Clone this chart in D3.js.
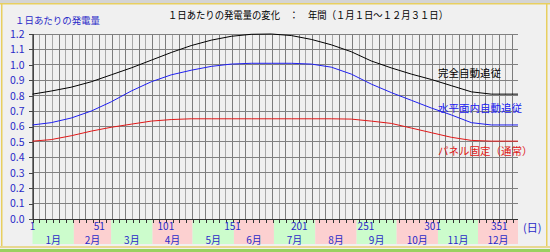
<!DOCTYPE html>
<html><head><meta charset="utf-8">
<script src="https://cdn.jsdelivr.net/npm/d3@7"></script>
<style>
html,body{margin:0;padding:0;background:#f0f0f0;}
svg{display:block;}
text{font-family:"Noto Sans CJK JP","Noto Sans",sans-serif;}
</style></head>
<body>
<svg id="c" width="550" height="252"></svg>
<script>
const days = [1,15,30,45,60,75,90,105,120,135,150,165,180,195,210,225,240,255,270,285,300,315,330,345,365];
const completeTracking = [0.81,0.83,0.855,0.89,0.935,0.98,1.03,1.08,1.125,1.16,1.185,1.198,1.2,1.19,1.165,1.13,1.085,1.025,0.98,0.94,0.905,0.865,0.825,0.81,0.81];
const horizontalTracking = [0.61,0.625,0.655,0.70,0.76,0.83,0.89,0.935,0.965,0.99,1.005,1.01,1.01,1.01,1.005,0.985,0.94,0.875,0.82,0.77,0.72,0.675,0.625,0.61,0.61];
const fixedPanel = [0.505,0.515,0.54,0.57,0.595,0.615,0.635,0.645,0.65,0.65,0.65,0.65,0.65,0.65,0.65,0.65,0.648,0.635,0.62,0.59,0.56,0.53,0.51,0.505,0.505];
const yTicks = [0.0,0.1,0.2,0.3,0.4,0.5,0.6,0.7,0.8,0.9,1.0,1.1,1.2];
const xTickLabels = [1,51,101,151,201,251,301,351];
const months = ["1月","2月","3月","4月","5月","6月","7月","8月","9月","10月","11月","12月"];
const monthDays = [31,28,31,30,31,30,31,31,30,31,30,31];
const seriesNames = ["完全自動追従","水平面内自動追従","パネル固定（通常）"];

const svg = d3.select("#c");
const W=550,H=252;
const x = d3.scaleLinear().domain([1,365]).range([32.5,518]);
const y = d3.scaleLinear().domain([0,1.2]).range([219,34]);
const blueText = "#2a2ac8";

// frame
svg.append("rect").attr("x",0).attr("y",0).attr("width",W).attr("height",H).attr("fill","#f0f0f0");
svg.append("rect").attr("x",0).attr("y",0).attr("width",W).attr("height",3).attr("fill","#d4d4d4");
svg.append("rect").attr("x",0).attr("y",3).attr("width",W).attr("height",1.5).attr("fill","#e8cf60");
svg.append("rect").attr("x",1).attr("y",3).attr("width",1.5).attr("height",244).attr("fill","#e8cf60");
svg.append("rect").attr("x",546).attr("y",3).attr("width",1.5).attr("height",244).attr("fill","#e8cf60");
svg.append("rect").attr("x",0).attr("y",246).attr("width",W).attr("height",2).attr("fill","#e8d890");
svg.append("rect").attr("x",0).attr("y",249).attr("width",W).attr("height",3).attr("fill","#9ad060");

// month bands
let start=1;
const bands = months.map((m,i)=>{const b={m,s:start,e:start+monthDays[i]}; start+=monthDays[i]; return b;});
svg.selectAll(".band").data(bands).enter().append("rect")
  .attr("x",d=>x(d.s)).attr("y",220).attr("width",d=>Math.min(x(d.e),x(365))-x(d.s)).attr("height",24)
  .attr("fill",(d,i)=>i%2===0?"#ccfccc":"#fcd0d0");
svg.selectAll(".mlab").data(bands).enter().append("text")
  .attr("x",d=>(x(d.s)+Math.min(x(d.e),x(365)))/2).attr("y",243.5)
  .attr("text-anchor","middle").attr("font-size",10).attr("fill",blueText).text(d=>d.m);

// grid
const vgrid = d3.range(1,362,5);
svg.selectAll(".vg").data(vgrid).enter().append("line")
  .attr("x1",d=>x(d)).attr("x2",d=>x(d)).attr("y1",y(1.2)).attr("y2",y(0))
  .attr("stroke",(d,i)=>i%2===0?"#7c7c7c":"#a8a8a8").attr("stroke-width",1).attr("shape-rendering","crispEdges");
svg.selectAll(".hg").data(yTicks).enter().append("line")
  .attr("x1",x(1)).attr("x2",x(365)).attr("y1",d=>y(d)).attr("y2",d=>y(d))
  .attr("stroke","#808080").attr("stroke-width",1).attr("shape-rendering","crispEdges");

// axes
const yAxis = d3.axisLeft(y).tickValues(yTicks).tickSize(4).tickFormat(d3.format(".1f"));
const ga = svg.append("g").attr("transform",`translate(${x(1)},0)`).call(yAxis);
ga.select(".domain").attr("stroke","#444").attr("shape-rendering","crispEdges");
ga.selectAll(".tick line").attr("stroke","#444").attr("shape-rendering","crispEdges");
ga.selectAll("text").attr("fill",blueText).attr("font-size",10.5).attr("font-family","Liberation Sans, Arial, sans-serif").attr("dx",-1);

const xAxis = d3.axisBottom(x).tickValues(vgrid).tickSize(4).tickFormat("");
const gx = svg.append("g").attr("transform",`translate(0,${y(0)})`).call(xAxis);
gx.select(".domain").attr("stroke","#333").attr("d",`M${x(1)},0.5H${x(365)}`).attr("shape-rendering","crispEdges");
gx.selectAll(".tick line").attr("stroke","#333").attr("shape-rendering","crispEdges");
svg.selectAll(".xl").data(xTickLabels).enter().append("text")
  .attr("x",d=>x(d)).attr("y",229.5).attr("text-anchor","middle").attr("font-size",10)
  .attr("font-family","Liberation Sans, Arial, sans-serif").attr("fill",blueText).text(d=>d);
svg.append("text").attr("x",523).attr("y",232).attr("font-size",11).attr("fill",blueText).text("(日)");

// lines
const line = d3.line().x((d,i)=>x(days[i])).y(d=>y(d));
const series = [
  {v:completeTracking,c:"#000000",ly:77,tc:"#000000"},
  {v:horizontalTracking,c:"#2020f0",ly:112,tc:"#2020f0"},
  {v:fixedPanel,c:"#e01818",ly:155,tc:"#e01818"}
];
series.forEach((s,i)=>{
  svg.append("path").attr("d",line(s.v)).attr("fill","none").attr("stroke",s.c).attr("stroke-width",1);
  svg.append("text").attr("x",438).attr("y",s.ly).attr("font-size",10.5).attr("fill",s.tc).text(seriesNames[i]);
});

// titles
svg.append("text").attr("x",168).attr("y",19).attr("font-size",10.5).attr("fill","#000")
  .text("１日あたりの発電量の変化　：　年間（１月１日～１２月３１日）").attr("textLength",280).attr("lengthAdjust","spacingAndGlyphs");
svg.append("text").attr("x",15).attr("y",23.5).attr("font-size",9.5).attr("fill",blueText)
  .text("１日あたりの発電量").attr("textLength",85).attr("lengthAdjust","spacingAndGlyphs");
</script>
</body></html>
